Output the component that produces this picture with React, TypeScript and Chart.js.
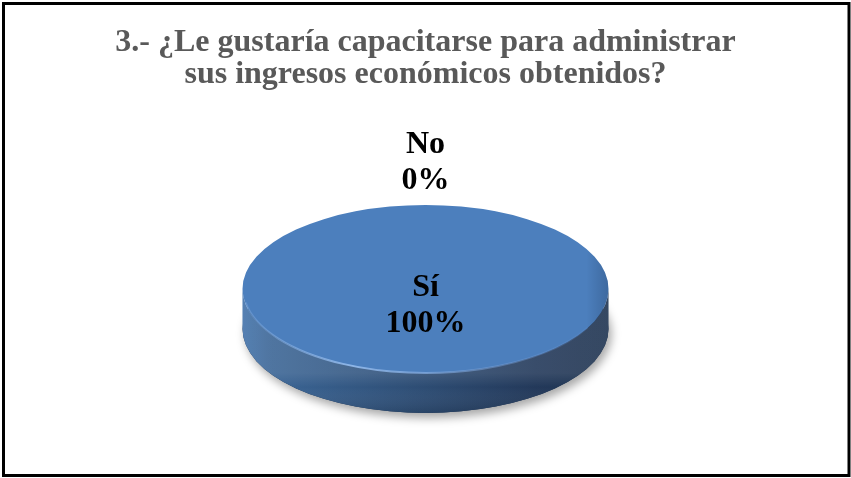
import React, { useEffect, useRef } from 'react';
import { Chart, registerables } from 'chart.js';

Chart.register(...registerables);

const categories: string[] = ['Sí', 'No'];
const values: number[] = [100, 0];
const sliceColors: string[] = ['#4C7FBD', '#C0504D'];
const titleLines: string[] = ['3.- ¿Le gustaría capacitarse para administrar', 'sus ingresos económicos obtenidos?'];

const TILT = 84 / 183;
const DEPTH = 40;
const SERIF = "'Liberation Serif', 'Times New Roman', serif";

function frontRanges(s: number, e: number): [number, number][] {
  const out: [number, number][] = [];
  const TWO = Math.PI * 2;
  for (let k = Math.floor(s / TWO) - 1; k * TWO <= e; k++) {
    const a = Math.max(s, k * TWO);
    const b = Math.min(e, k * TWO + Math.PI);
    if (b > a) out.push([a, b]);
  }
  return out;
}

function geom(chart: any) {
  const meta = chart.getDatasetMeta(0);
  const arcs = meta.data;
  if (!arcs.length) return null;
  const p = arcs[0].getProps(['x', 'y', 'outerRadius'], true);
  return { arcs, cx: p.x as number, cy: p.y as number, r: p.outerRadius as number, ry: (p.outerRadius as number) * TILT };
}

const pie3dPlugin = {
  id: 'pie3d',
  beforeDatasetsDraw(chart: any) {
    const g = geom(chart);
    if (!g) return;
    const { arcs, cx, cy, r, ry } = g;
    const ctx: CanvasRenderingContext2D = chart.ctx;
    // soft shadow under the pie
    ctx.save();
    ctx.shadowColor = 'rgba(0,0,0,0.35)';
    ctx.shadowBlur = 10;
    ctx.shadowOffsetX = 3;
    ctx.shadowOffsetY = 5;
    ctx.beginPath();
    ctx.ellipse(cx, cy + DEPTH, r, ry, 0, 0, Math.PI * 2);
    ctx.fillStyle = '#1E3350';
    ctx.fill();
    ctx.restore();
    // side walls
    arcs.forEach((arc: any) => {
      const { startAngle, endAngle } = arc.getProps(['startAngle', 'endAngle'], true);
      for (const [a, b] of frontRanges(startAngle, endAngle)) {
        ctx.save();
        ctx.beginPath();
        ctx.ellipse(cx, cy, r, ry, 0, a, b);
        ctx.lineTo(cx + r * Math.cos(b), cy + ry * Math.sin(b) + DEPTH);
        ctx.ellipse(cx, cy + DEPTH, r, ry, 0, b, a, true);
        ctx.closePath();
        const hg = ctx.createLinearGradient(cx - r, 0, cx + r, 0);
        hg.addColorStop(0, '#4272AA');
        hg.addColorStop(0.08, '#3B6595');
        hg.addColorStop(0.5, '#2D4C73');
        hg.addColorStop(0.8, '#23395A');
        hg.addColorStop(1, '#1E3350');
        ctx.fillStyle = hg;
        ctx.fill();
        const vg = ctx.createLinearGradient(0, cy + ry, 0, cy + ry + DEPTH);
        vg.addColorStop(0, 'rgba(255,255,255,0.10)');
        vg.addColorStop(0.35, 'rgba(255,255,255,0)');
        vg.addColorStop(1, 'rgba(0,0,0,0.12)');
        ctx.fillStyle = vg;
        ctx.fill();
        ctx.restore();
      }
    });
    // squash the top face into an ellipse
    ctx.save();
    ctx.translate(cx, cy);
    ctx.scale(1, TILT);
    ctx.translate(-cx, -cy);
  },
  afterDatasetsDraw(chart: any) {
    const g = geom(chart);
    if (!g) return;
    const { cx, cy, r, ry } = g;
    const ctx: CanvasRenderingContext2D = chart.ctx;
    ctx.restore();
    // bevel shading near the right rim
    ctx.save();
    ctx.beginPath();
    ctx.ellipse(cx, cy, r, ry, 0, 0, Math.PI * 2);
    ctx.clip();
    const rg = ctx.createLinearGradient(cx + r - 22, 0, cx + r, 0);
    rg.addColorStop(0, 'rgba(20,40,70,0)');
    rg.addColorStop(1, 'rgba(20,40,70,0.25)');
    ctx.fillStyle = rg;
    ctx.fillRect(cx + r - 22, cy - ry, 22, ry * 2);
    ctx.restore();
    // front rim highlight
    ctx.save();
    const lg = ctx.createLinearGradient(cx - r, 0, cx + r, 0);
    lg.addColorStop(0, 'rgba(140,180,230,0.3)');
    lg.addColorStop(0.3, 'rgba(150,190,240,0.9)');
    lg.addColorStop(0.7, 'rgba(120,160,215,0.5)');
    lg.addColorStop(1, 'rgba(100,140,200,0.1)');
    ctx.strokeStyle = lg;
    ctx.lineWidth = 2;
    ctx.beginPath();
    ctx.ellipse(cx, cy + 0.5, r - 1, ry - 0.5, 0, Math.PI * 0.15, Math.PI * 0.95);
    ctx.stroke();
    ctx.restore();
  },
  afterDraw(chart: any) {
    const ctx: CanvasRenderingContext2D = chart.ctx;
    const g = geom(chart);
    if (g) {
      const { arcs, cx, cy, r, ry } = g;
      const total = values.reduce((s, v) => s + v, 0);
      ctx.save();
      ctx.font = `bold 32px ${SERIF}`;
      ctx.fillStyle = '#000000';
      ctx.textAlign = 'center';
      ctx.textBaseline = 'middle';
      arcs.forEach((arc: any, i: number) => {
        const pct = total ? values[i] / total : 0;
        const lines = [categories[i], `${Math.round(pct * 100)}%`];
        const { startAngle, endAngle } = arc.getProps(['startAngle', 'endAngle'], true);
        const mid = (startAngle + endAngle) / 2;
        let x: number;
        let y: number;
        if (pct >= 0.999) {
          x = cx;
          y = cy + 17;
        } else if (pct < 0.05) {
          const ex = cx + Math.cos(mid) * r;
          const ey = cy + Math.sin(mid) * ry + (Math.sin(mid) > 0 ? DEPTH : 0);
          x = ex + Math.cos(mid) * 42;
          y = ey + Math.sin(mid) * 42;
        } else {
          x = cx + Math.cos(mid) * r * 0.55;
          y = cy + Math.sin(mid) * ry * 0.55;
        }
        const lh = 36;
        lines.forEach((t, j) => ctx.fillText(t, x, y + (j - (lines.length - 1) / 2) * lh));
      });
      ctx.restore();
    }
    // outer border
    ctx.save();
    ctx.strokeStyle = '#000000';
    ctx.lineWidth = 3;
    ctx.strokeRect(3.5, 3.5, 845.5, 472);
    ctx.restore();
  },
};

export default function App() {
  const canvasRef = useRef<HTMLCanvasElement | null>(null);

  useEffect(() => {
    document.body.style.margin = '0';
    const canvas = canvasRef.current;
    if (!canvas) return;
    const chart = new Chart(canvas, {
      type: 'pie',
      data: {
        labels: categories,
        datasets: [
          {
            data: values,
            backgroundColor: sliceColors,
            borderWidth: 0,
          },
        ],
      },
      options: {
        responsive: false,
        animation: false,
        events: [],
        radius: 183,
        layout: { padding: 0 },
        plugins: {
          legend: { display: false },
          tooltip: { enabled: false },
          title: {
            display: true,
            text: titleLines,
            color: '#595959',
            font: { family: SERIF, size: 32, weight: 'bold', lineHeight: 0.99 },
            padding: { top: 27, bottom: 9.6 },
          },
        },
      } as any,
      plugins: [pie3dPlugin],
    });
    return () => chart.destroy();
  }, []);

  return (
    <div style={{ width: 851, height: 478, background: '#ffffff' }}>
      <canvas ref={canvasRef} width={851} height={478} style={{ display: 'block' }} />
    </div>
  );
}
